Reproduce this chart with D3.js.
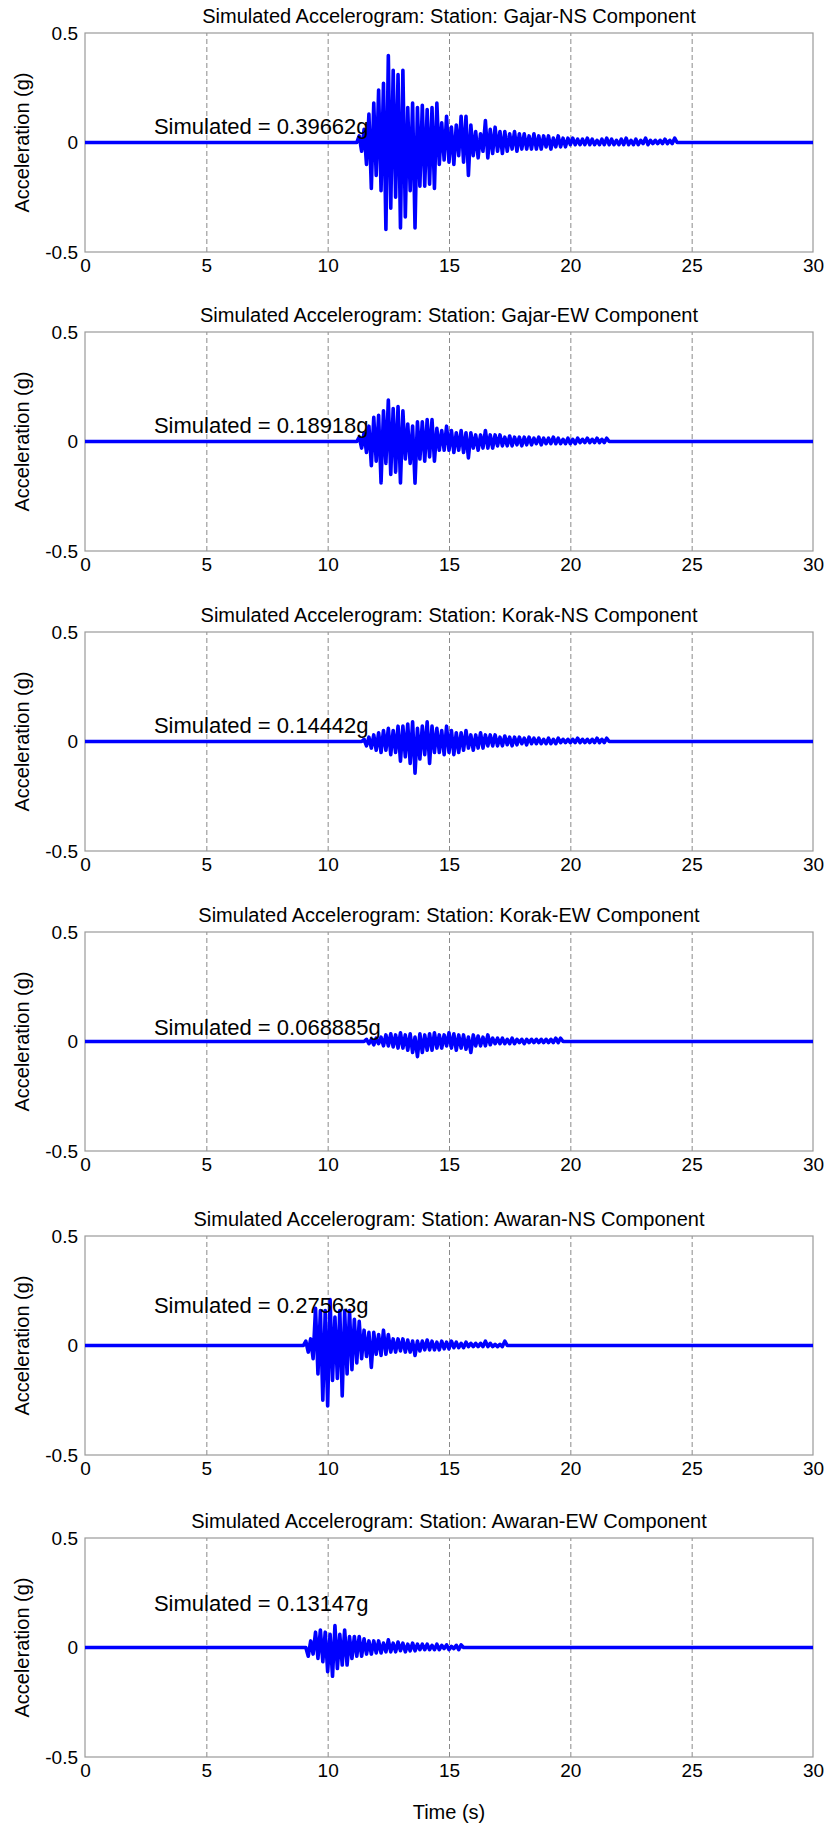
<!DOCTYPE html>
<html>
<head>
<meta charset="utf-8">
<script src="https://cdn.jsdelivr.net/npm/d3@7/dist/d3.min.js"></script>
<style>
  body { margin: 0; background: #fff; }
  svg { display: block; font-family: "Liberation Sans", Arial, sans-serif; }
</style>
</head>
<body>
<div id="chart"></div>
<script>
const STATIONS = ['Gajar-NS', 'Gajar-EW', 'Korak-NS', 'Korak-EW', 'Awaran-NS', 'Awaran-EW'];
const PEAKS = ['0.39662', '0.18918', '0.14442', '0.068885', '0.27563', '0.13147'];

const X_TICKS = [0, 5, 10, 15, 20, 25, 30];
const Y_TICKS = [-0.5, 0, 0.5];
const Y_TICK_LABELS = ['-0.5', '0', '0.5'];

// record: first sample time (s) for each trace, samples every 0.1 s
const SAMPLE_STEP = 0.1;
const ONSETS = [11.2, 11.2, 11.4, 11.5, 9.0, 9.1];

// where the "Simulated = ..." note sits, in data units
const NOTE_X = 2.84;
const NOTE_Y = [0.04, 0.04, 0.04, 0.03, 0.147, 0.165];

const gajarNs = [
    0, 0.03, -0.04, 0.06, -0.10, 0.13, -0.21, 0.18, -0.15, 0.24,
    -0.22, 0.27, -0.3966, 0.3966, -0.30, 0.33, -0.25, 0.31, -0.39, 0.33,
    -0.34, 0.16, -0.22, 0.18, -0.39, 0.16, -0.20, 0.17, -0.20, 0.15,
    -0.19, 0.16, -0.21, 0.18, -0.10, 0.09, -0.08, 0.12, -0.09, 0.07,
    -0.10, 0.08, -0.06, 0.12, -0.09, 0.12, -0.15, 0.08, -0.06, 0.05,
    -0.07, 0.04, -0.04, 0.10, -0.07, 0.06, -0.05, 0.07, -0.04, 0.05,
    -0.05, 0.05, -0.04, 0.04, -0.03, 0.05, -0.04, 0.04, -0.03, 0.04,
    -0.03, 0.03, -0.03, 0.04, -0.03, 0.03, -0.03, 0.03, -0.02, 0.03,
    -0.03, 0.02, -0.02, 0.03, -0.02, 0.02, -0.02, 0.02, -0.01, 0.02,
    -0.01, 0.015, -0.01, 0.015, -0.01, 0.02, -0.01, 0.015, -0.01, 0.01,
    -0.01, 0.015, -0.01, 0.02, -0.01, 0.015, -0.01, 0.01, -0.01, 0.015,
    -0.01, 0.02, -0.01, 0.01, -0.01, 0.015, -0.01, 0.01, -0.005, 0.02,
    -0.01, 0.01, -0.005, 0.01, -0.005, 0.01, -0.005, 0.015, -0.005, 0.01,
    -0.005, 0.02, 0
];

const gajarEw = [
    0, 0.02, -0.03, 0.04, -0.05, 0.07, -0.11, 0.11, -0.09, 0.12,
    -0.1892, 0.14, -0.10, 0.1892, -0.15, 0.15, -0.14, 0.16, -0.1892, 0.14,
    -0.08, 0.08, -0.10, 0.07, -0.19, 0.09, -0.08, 0.09, -0.09, 0.10,
    -0.07, 0.10, -0.09, 0.06, -0.04, 0.05, -0.04, 0.07, -0.04, 0.05,
    -0.05, 0.04, -0.04, 0.05, -0.05, 0.04, -0.075, 0.04, -0.03, 0.03,
    -0.04, 0.03, -0.03, 0.05, -0.03, 0.03, -0.03, 0.03, -0.02, 0.03,
    -0.02, 0.02, -0.02, 0.025, -0.02, 0.02, -0.015, 0.02, -0.02, 0.02,
    -0.015, 0.02, -0.015, 0.015, -0.01, 0.02, -0.015, 0.015, -0.01, 0.015,
    -0.01, 0.02, -0.01, 0.015, -0.01, 0.01, -0.01, 0.015, -0.01, 0.01,
    -0.01, 0.015, -0.005, 0.01, -0.005, 0.015, -0.005, 0.01, -0.005, 0.015,
    -0.005, 0.01, -0.005, 0.015, 0
];

const korakNs = [
    0, 0.01, -0.02, 0.02, -0.03, 0.03, -0.04, 0.04, -0.05, 0.05,
    -0.04, 0.06, -0.06, 0.05, -0.05, 0.07, -0.09, 0.07, -0.07, 0.08,
    -0.10, 0.09, -0.1444, 0.06, -0.08, 0.07, -0.06, 0.09, -0.10, 0.07,
    -0.05, 0.06, -0.05, 0.05, -0.06, 0.07, -0.05, 0.05, -0.06, 0.04,
    -0.05, 0.04, -0.04, 0.05, -0.03, 0.03, -0.04, 0.03, -0.03, 0.04,
    -0.03, 0.03, -0.02, 0.03, -0.02, 0.03, -0.02, 0.02, -0.02, 0.025,
    -0.015, 0.02, -0.02, 0.02, -0.015, 0.02, -0.01, 0.015, -0.015, 0.02,
    -0.01, 0.015, -0.01, 0.015, -0.01, 0.01, -0.01, 0.015, -0.01, 0.01,
    -0.01, 0.015, -0.005, 0.01, -0.005, 0.01, -0.005, 0.01, -0.005, 0.015,
    -0.005, 0.01, -0.005, 0.01, -0.005, 0.01, -0.005, 0.015, -0.005, 0.01,
    -0.005, 0.015, 0
];

const korakEw = [
    0, 0.01, -0.01, 0.01, -0.015, 0.015, -0.01, 0.02, -0.02, 0.03,
    -0.02, 0.035, -0.025, 0.03, -0.03, 0.04, -0.03, 0.03, -0.04, 0.035,
    -0.05, 0.02, -0.0689, 0.035, -0.05, 0.03, -0.04, 0.035, -0.04, 0.04,
    -0.03, 0.03, -0.03, 0.03, -0.02, 0.04, -0.03, 0.035, -0.04, 0.03,
    -0.03, 0.03, -0.035, 0.02, -0.05, 0.03, -0.02, 0.025, -0.02, 0.02,
    -0.02, 0.03, -0.015, 0.015, -0.01, 0.015, -0.01, 0.015, -0.01, 0.01,
    -0.01, 0.015, -0.01, 0.01, -0.005, 0.01, -0.01, 0.01, -0.005, 0.01,
    -0.005, 0.01, -0.005, 0.01, -0.005, 0.01, -0.005, 0.01, -0.005, 0.015,
    -0.005, 0.015, 0
];

const awaranNs = [
    0, 0.02, -0.03, 0.03, -0.06, 0.17, -0.13, 0.16, -0.25, 0.16,
    -0.2756, 0.21, -0.16, 0.13, -0.15, 0.16, -0.23, 0.16, -0.13, 0.16,
    -0.11, 0.12, -0.08, 0.11, -0.06, 0.07, -0.05, 0.06, -0.10, 0.06,
    -0.04, 0.05, -0.045, 0.07, -0.04, 0.05, -0.03, 0.03, -0.03, 0.03,
    -0.025, 0.03, -0.03, 0.025, -0.03, 0.02, -0.045, 0.02, -0.025, 0.02,
    -0.02, 0.025, -0.02, 0.02, -0.02, 0.015, -0.02, 0.02, -0.015, 0.015,
    -0.015, 0.02, -0.01, 0.015, -0.01, 0.01, -0.01, 0.015, -0.005, 0.01,
    -0.005, 0.01, -0.005, 0.01, -0.005, 0.02, -0.005, 0.01, -0.005, 0.005,
    -0.005, 0.005, -0.005, 0.02, 0
];

const awaranEw = [
    0, -0.04, 0.03, -0.03, 0.07, -0.05, 0.08, -0.065, 0.07, -0.11,
    0.06, -0.1315, 0.10, -0.096, 0.06, -0.08, 0.08, -0.08, 0.05, -0.05,
    0.05, -0.04, 0.05, -0.04, 0.04, -0.03, 0.03, -0.03, 0.03, -0.025,
    0.03, -0.025, 0.02, -0.02, 0.035, -0.02, 0.02, -0.02, 0.025, -0.015,
    0.02, -0.02, 0.015, -0.015, 0.02, -0.015, 0.015, -0.01, 0.015, -0.01,
    0.015, -0.01, 0.01, -0.01, 0.015, -0.01, 0.01, -0.005, 0.012, -0.01,
    0.005, -0.005, 0.01, -0.01, 0.012, 0
];

const TRACES = [gajarNs, gajarEw, korakNs, korakEw, awaranNs, awaranEw];

const WIDTH = 828;
const HEIGHT = 1826;
const PLOT_LEFT = 85;
const PLOT_RIGHT = 813;
const PANEL_TOPS = [33, 332, 632, 932, 1236, 1538];
const PANEL_HEIGHT = 219;

function tracePoints(i) {
    const pts = [[0, 0]];
    TRACES[i].forEach((v, k) => pts.push([ONSETS[i] + k * SAMPLE_STEP, v]));
    pts.push([30, 0]);
    return pts;
}

function drawPanel(svg, i) {
    const top = PANEL_TOPS[i];
    const bottom = top + PANEL_HEIGHT;

    const x = d3.scaleLinear().domain([0, 30]).range([PLOT_LEFT, PLOT_RIGHT]);
    const y = d3.scaleLinear().domain([-0.5, 0.5]).range([bottom, top]);

    const g = svg.append('g');

    // dashed vertical grid
    g.append('g')
        .attr('transform', `translate(0,${bottom})`)
        .call(d3.axisBottom(x)
            .tickValues(X_TICKS.filter(t => t > 0 && t < 30))
            .tickSize(-PANEL_HEIGHT)
            .tickFormat(''))
        .call(s => s.select('.domain').remove())
        .selectAll('line')
        .attr('stroke', '#8a8a8a')
        .attr('stroke-width', 1)
        .attr('stroke-dasharray', '5,3');

    g.append('rect')
        .attr('x', PLOT_LEFT)
        .attr('y', top)
        .attr('width', PLOT_RIGHT - PLOT_LEFT)
        .attr('height', PANEL_HEIGHT)
        .attr('fill', 'none')
        .attr('stroke', '#9a9a9a')
        .attr('stroke-width', 1.2);

    const line = d3.line()
        .x(d => x(d[0]))
        .y(d => y(d[1]));

    g.append('path')
        .datum(tracePoints(i))
        .attr('d', line)
        .attr('fill', 'none')
        .attr('stroke', '#0000ff')
        .attr('stroke-width', 3.6)
        .attr('stroke-linejoin', 'round');

    // tick labels
    g.append('g')
        .attr('transform', `translate(0,${bottom})`)
        .call(d3.axisBottom(x).tickValues(X_TICKS).tickSize(0).tickPadding(7))
        .call(s => s.select('.domain').remove())
        .selectAll('text')
        .style('font-size', '19px')
        .attr('fill', '#000');

    g.append('g')
        .attr('transform', `translate(${PLOT_LEFT},0)`)
        .call(d3.axisLeft(y)
            .tickValues(Y_TICKS)
            .tickSize(0)
            .tickPadding(7)
            .tickFormat((d, k) => Y_TICK_LABELS[k]))
        .call(s => s.select('.domain').remove())
        .selectAll('text')
        .style('font-size', '19px')
        .attr('fill', '#000');

    g.append('text')
        .attr('x', (PLOT_LEFT + PLOT_RIGHT) / 2)
        .attr('y', top - 10)
        .attr('text-anchor', 'middle')
        .style('font-size', '20px')
        .text(`Simulated Accelerogram: Station: ${STATIONS[i]} Component`);

    g.append('text')
        .attr('transform', `translate(29,${(top + bottom) / 2}) rotate(-90)`)
        .attr('text-anchor', 'middle')
        .style('font-size', '20px')
        .text('Acceleration (g)');

    g.append('text')
        .attr('x', x(NOTE_X))
        .attr('y', y(NOTE_Y[i]))
        .style('font-size', '22px')
        .text(`Simulated = ${PEAKS[i]}g`);
}

function initializeChart() {
    const svg = d3.select('#chart')
        .append('svg')
        .attr('width', WIDTH)
        .attr('height', HEIGHT);

    svg.append('rect')
        .attr('width', WIDTH)
        .attr('height', HEIGHT)
        .attr('fill', '#fff');

    STATIONS.forEach((s, i) => drawPanel(svg, i));

    svg.append('text')
        .attr('x', (PLOT_LEFT + PLOT_RIGHT) / 2)
        .attr('y', 1819)
        .attr('text-anchor', 'middle')
        .style('font-size', '20px')
        .text('Time (s)');
}

document.addEventListener('DOMContentLoaded', initializeChart);
</script>
</body>
</html>
